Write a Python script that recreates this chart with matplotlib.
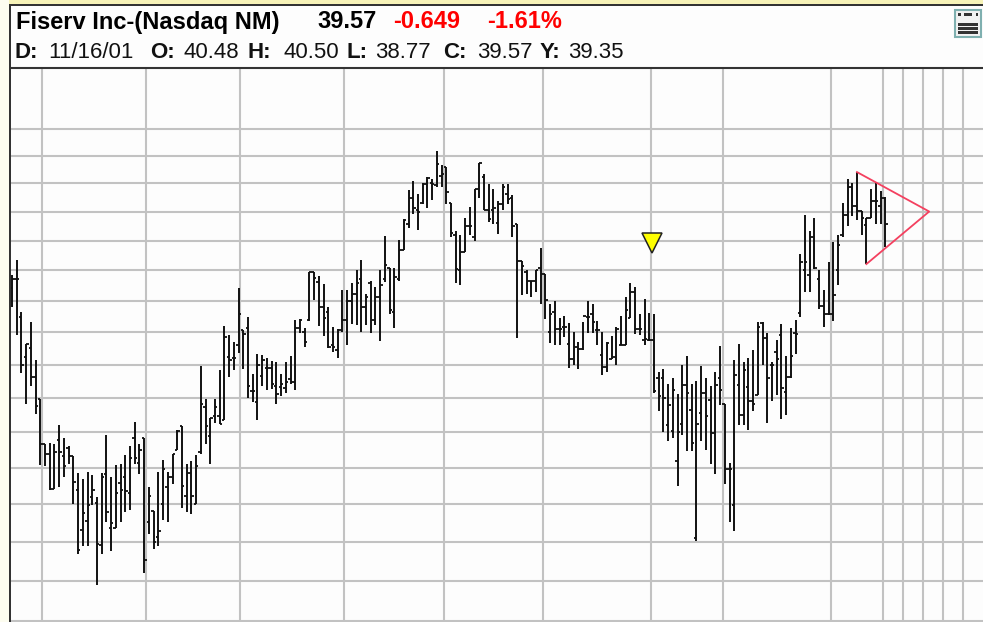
import matplotlib
matplotlib.use("Agg")
import matplotlib.pyplot as plt
from matplotlib.patches import Rectangle

# daily bars, prices
opens = [37.41, 37.72, 36.50, 35.25, 35.51, 34.63, 33.96, 32.65, 32.37, 31.41, 32.78, 32.33,
         32.56, 32.33, 31.38, 30.31, 30.54, 31.18, 31.02, 29.91, 31.82, 30.35, 30.35, 31.56,
         31.73, 31.29, 32.84, 32.14, 32.84, 30.53, 30.82, 30.12, 31.00, 31.45, 31.75, 32.49,
         33.17, 31.23, 31.84, 31.00, 32.45, 33.72, 32.89, 33.47, 33.47, 33.34, 35.25, 35.20,
         35.61, 36.08, 36.14, 34.21, 33.89, 34.65, 34.89, 34.89, 34.35, 34.32, 34.30, 34.58,
         34.47, 36.14, 36.01, 36.40, 37.94, 37.63, 36.81, 36.66,
         35.60, 35.45, 36.07, 36.39, 37.01, 37.21, 37.73, 36.82, 37.60, 36.39, 37.12, 37.73,
         38.07, 36.65, 37.73, 38.68, 39.57, 40.49, 40.07, 40.31, 40.96, 41.02, 40.93, 41.26,
         41.58, 40.29, 39.18, 38.01, 38.62, 39.51, 39.12, 40.79, 41.23, 40.07, 40.07, 39.60,
         40.25, 40.61, 40.49, 39.57, 38.31, 37.96, 37.64, 37.64, 38.07, 37.87, 36.00, 36.65,
         36.12, 36.16, 35.63, 35.19, 35.53, 35.48, 36.49, 36.59, 36.07, 35.29, 34.93, 35.19,
         35.24, 35.60, 35.60, 36.47, 37.29, 36.12, 35.76, 35.76,
         35.76, 34.59, 34.59, 33.20, 33.04, 32.17, 33.24, 34.39, 33.66, 30.09, 33.56, 34.15,
         33.95, 32.97, 34.59, 33.82, 31.95, 30.96, 34.39, 33.51, 34.34, 33.90, 34.10, 36.31,
         35.81, 35.00, 35.38, 35.92, 34.17, 34.64, 35.97, 36.63, 38.01, 37.84, 39.12, 37.73,
         36.85, 36.57, 36.57, 38.01, 39.20, 39.88, 40.85, 40.21, 40.01, 39.53, 39.79, 40.37,
         40.19, 40.48]
highs = [37.86, 38.36, 36.64, 35.65, 36.32, 35.15, 33.96, 32.65, 32.68, 32.67, 33.20, 32.84,
         32.61, 32.33, 31.84, 31.68, 31.89, 31.78, 31.18, 31.84, 32.91, 31.73, 32.06, 32.09,
         32.34, 32.61, 33.30, 32.67, 32.84, 31.45, 30.82, 31.89, 32.22, 31.89, 32.39, 33.07,
         33.17, 32.09, 32.17, 32.36, 34.97, 33.96, 33.42, 33.96, 34.84, 36.19, 35.93, 35.70,
         37.41, 36.08, 36.50, 34.72, 35.32, 35.30, 35.20, 35.11, 35.07, 34.72, 35.07, 35.28,
         36.40, 36.43, 36.14, 37.94, 37.94, 37.80, 37.54, 36.81,
         36.18, 36.12, 37.34, 37.34, 37.60, 38.01, 38.34, 37.23, 37.64, 37.46, 38.01, 39.16,
         38.07, 38.09, 39.01, 39.73, 40.77, 41.08, 40.61, 41.00, 41.23, 41.14, 42.15, 41.64,
         41.58, 40.29, 39.34, 39.20, 39.79, 40.17, 40.79, 41.74, 41.32, 40.96, 40.79, 40.37,
         40.96, 40.96, 40.58, 39.57, 38.31, 38.01, 37.64, 38.01, 38.76, 37.87, 36.91, 37.01,
         36.44, 36.51, 36.31, 36.00, 35.71, 36.33, 37.01, 36.89, 36.35, 36.00, 35.71, 35.90,
         36.18, 36.52, 37.14, 37.60, 37.46, 36.59, 37.07, 36.63,
         36.57, 34.78, 34.88, 34.41, 34.61, 34.12, 35.00, 35.27, 34.41, 34.52, 34.96, 34.59,
         34.37, 34.78, 35.58, 33.82, 32.14, 35.14, 35.64, 35.08, 35.21, 35.45, 36.33, 36.33,
         35.97, 35.08, 35.76, 36.26, 35.27, 36.13, 36.39, 38.53, 39.88, 39.34, 39.76, 38.01,
         37.34, 38.29, 38.96, 39.18, 40.29, 41.14, 41.02, 41.40, 40.01, 39.79, 40.81, 41.02,
         40.73, 40.50]
lows = [36.81, 35.93, 34.75, 33.81, 34.35, 33.52, 32.07, 32.05, 31.38, 31.41, 31.46, 31.75,
        32.09, 31.00, 29.68, 29.88, 29.88, 30.96, 28.89, 29.68, 30.51, 29.76, 30.35, 30.51,
        30.78, 30.84, 32.09, 31.82, 29.19, 30.20, 29.82, 29.88, 30.56, 30.51, 31.55, 32.49,
        30.89, 30.78, 30.73, 31.00, 32.37, 32.65, 32.09, 33.27, 33.23, 33.34, 34.63, 34.84,
        35.35, 34.87, 33.99, 33.89, 33.36, 34.35, 34.23, 34.26, 33.81, 34.06, 34.16, 34.42,
        34.23, 35.98, 35.56, 36.36, 37.02, 36.19, 35.88, 35.51,
        35.40, 35.21, 36.02, 35.60, 36.28, 36.23, 36.02, 36.23, 35.97, 36.23, 35.73, 37.62,
        36.59, 36.15, 37.64, 38.68, 39.42, 39.90, 39.37, 40.25, 40.11, 40.39, 40.85, 40.85,
        40.27, 39.12, 37.57, 37.51, 38.60, 39.20, 38.98, 40.49, 40.05, 39.62, 39.57, 39.23,
        40.07, 40.25, 39.12, 35.84, 37.18, 37.23, 37.12, 37.29, 36.91, 36.41, 35.66, 35.60,
        35.60, 35.86, 34.91, 35.00, 34.86, 35.45, 35.97, 35.97, 35.60, 34.69, 34.78, 35.19,
        34.98, 35.60, 35.60, 36.47, 35.94, 35.92, 35.60, 35.73,
        34.15, 33.61, 33.02, 32.76, 32.83, 31.48, 32.93, 32.46, 32.46, 30.02, 32.74, 32.48,
        32.09, 31.82, 33.80, 31.55, 30.51, 30.29, 33.22, 33.22, 33.07, 33.61, 34.10, 34.98,
        33.26, 33.90, 34.08, 33.39, 33.49, 34.59, 35.34, 36.49, 37.29, 37.29, 38.04, 36.73,
        36.18, 36.54, 36.35, 37.51, 39.12, 39.51, 39.84, 39.71, 39.18, 38.21, 39.79, 39.57,
        39.57, 38.77]
closes = [37.72, 37.72, 35.00, 35.65, 34.63, 33.76, 32.65, 32.37, 31.41, 32.45, 32.45, 32.05,
          32.33, 31.61, 29.78, 30.75, 30.96, 31.38, 29.94, 31.75, 30.78, 30.49, 31.29, 31.38,
          31.35, 32.28, 32.28, 32.50, 29.52, 31.23, 29.98, 30.27, 31.95, 31.75, 32.39, 33.05,
          31.50, 31.84, 31.23, 32.05, 33.81, 33.18, 33.42, 33.72, 33.23, 35.87, 35.15, 35.20,
          36.57, 35.95, 34.35, 34.21, 34.99, 35.15, 34.89, 34.42, 34.13, 34.42, 34.47, 34.47,
          36.14, 36.40, 35.69, 37.94, 37.74, 36.81, 36.45, 35.56,
          35.55, 36.07, 36.39, 37.01, 37.21, 37.60, 36.82, 37.12, 36.39, 37.12, 37.53, 38.18,
          36.70, 37.77, 38.68, 39.71, 40.49, 40.11, 39.99, 40.96, 41.20, 40.96, 41.68, 41.32,
          40.67, 39.27, 38.04, 38.62, 39.51, 39.51, 40.79, 41.71, 40.07, 39.73, 40.13, 40.25,
          40.88, 40.43, 39.51, 38.31, 38.16, 37.64, 37.64, 38.01, 37.87, 37.04, 36.59, 36.12,
          36.12, 36.16, 35.19, 35.53, 35.48, 36.53, 36.49, 36.33, 36.07, 34.93, 35.66, 35.24,
          36.12, 35.60, 36.70, 37.29, 36.12, 36.12, 35.78, 35.76,
          34.20, 34.05, 34.00, 33.80, 34.25, 33.00, 34.39, 34.15, 32.69, 33.24, 34.15, 33.46,
          32.97, 34.39, 34.25, 31.95, 31.95, 34.69, 33.51, 34.83, 33.90, 33.82, 36.18, 35.81,
          34.59, 35.00, 35.17, 34.29, 34.64, 35.27, 35.94, 38.27, 38.27, 39.12, 38.07, 36.85,
          36.57, 36.57, 37.18, 38.84, 39.88, 40.85, 40.21, 40.01, 39.79, 39.79, 40.37, 40.37,
          40.49, 39.57]

grid_prices = [43, 42, 41, 40, 39, 38, 37, 36, 35, 34, 33, 32, 31, 30, 29, 28]
# month lines, then the weekly lines past the last bar
grid_bars = [6.36, 28.4, 48.3, 70.3, 91.5, 112.5, 135.4, 150.6, 173.5, 184.5, 188.8, 193, 197.2, 201.5]

# triangle drawn from bar 179 high to apex to bar 181 low
tri_bars = [179, 194.3, 181]
tri_prices = [41.40, 40.00, 38.21]

signal_bar = 135.6
signal_price = 38.93

W, H = 983, 622


def px(x, y):
    return x / W, 1 - y / H


fig = plt.figure(figsize=(W / 100, H / 100), dpi=100, facecolor="#fdfdfd")
plt.rcParams["font.family"] = ["Liberation Sans", "DejaVu Sans"]

# window frame bits
fig.add_artist(Rectangle((0, 1 - 4 / H), 1, 4 / H, transform=fig.transFigure, color="#f7f3b8", lw=0))
fig.add_artist(Rectangle((0, 0), 9 / W, 1, transform=fig.transFigure, color="#fdfdf0", lw=0))
fig.add_artist(Rectangle((9 / W, 0), 1.6 / W, 1 - 4 / H, transform=fig.transFigure, color="#333333", lw=0))
fig.add_artist(Rectangle((9 / W, 1 - 5.5 / H), 1 - 9 / W, 1.8 / H, transform=fig.transFigure, color="#333333", lw=0))

ax = fig.add_axes([10.5 / W, 0, (W - 10.5) / W, (H - 68) / H])
ax.set_facecolor("#fdfdfd")
ax.set_yscale("log")
ax.set_xlim(-0.32, 205.7)
ax.set_ylim(27.97, 45.33)
ax.set_xticks([])
ax.set_yticks([])
ax.minorticks_off()
for s in ["left", "right", "bottom"]:
    ax.spines[s].set_visible(False)
ax.spines["top"].set_color("#333333")
ax.spines["top"].set_linewidth(1.5)

ax.hlines(grid_prices, -1, 210, color="#c2c2c2", lw=1.5, zorder=1)
ax.vlines(grid_bars, 20, 50, color="#c2c2c2", lw=1.5, zorder=1)

bars = list(range(len(closes)))
ax.vlines(bars, lows, highs, color="#111111", lw=1.4, zorder=3)
ax.hlines(opens, [b - 0.5 for b in bars], bars, color="#111111", lw=1.3, zorder=3)
ax.hlines(closes, bars, [b + 0.5 for b in bars], color="#111111", lw=1.3, zorder=3)

ax.plot(tri_bars, tri_prices, color="#f4405f", lw=1.3, zorder=4)
ax.plot([signal_bar], [signal_price], marker="v", ms=14.5, mfc="#ffff00", mec="#222222", mew=1.1,
        ls="none", zorder=5)

# header, positions in pixels
top_row = [("Fiserv Inc-(Nasdaq NM)", 16, "black"), ("39.57", 317, "black"),
           ("-0.649", 393, "#ff0000"), ("-1.61%", 487, "#ff0000")]
for txt, x, col in top_row:
    fx, fy = px(x, 22)
    fig.text(fx, fy, txt, color=col, fontsize=17, fontweight="bold", va="center", ha="left")

bottom_row = [("D:", 14, True), ("11/16/01", 48, False), ("O:", 150, True), ("40.48", 184, False),
              ("H:", 248, True), ("40.50", 283, False), ("L:", 347, True), ("38.77", 375, False),
              ("C:", 443, True), ("39.57", 477, False), ("Y:", 540, True), ("39.35", 568, False)]
for txt, x, bold in bottom_row:
    fx, fy = px(x, 52)
    fig.text(fx, fy, txt, color="#111111", fontsize=16, fontweight="bold" if bold else "normal",
             va="center", ha="left")

# little menu icon top right
fig.add_artist(Rectangle((955 / W, 1 - 37 / H), 26 / W, 27 / H, transform=fig.transFigure,
                         fc="#f2f2f2", ec="#7fb0b0", lw=1.5))
for y0, h0, x0, w0 in [(13, 3, 958, 2.5), (13, 3, 964, 8), (13, 3, 975.5, 2.5),
                       (23, 2.5, 958, 20), (27, 2.5, 958, 20), (31, 2.5, 958, 20)]:
    fig.add_artist(Rectangle((x0 / W, 1 - (y0 + h0) / H), w0 / W, h0 / H, transform=fig.transFigure,
                             color="#333333", lw=0))

assert len(opens) == len(highs) == len(lows) == len(closes)
fig.savefig("out.png", dpi=100, facecolor=fig.get_facecolor())
